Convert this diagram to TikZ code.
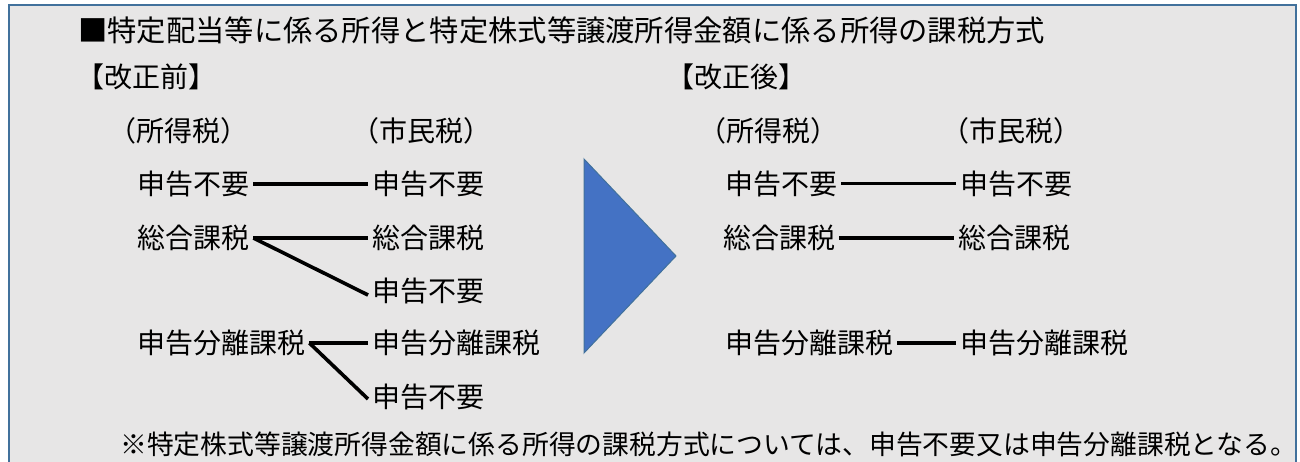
\documentclass[tikz,border=0pt]{standalone}
\usepackage{fontspec}
\setmainfont{Noto Sans CJK JP}
\definecolor{boxfill}{HTML}{E7E6E6}
\definecolor{boxline}{HTML}{41719C}
\definecolor{trifill}{HTML}{4472C4}
\begin{document}
\begin{tikzpicture}[x=1pt,y=-1pt,
  txt/.style={anchor=west, inner ysep=0pt, inner xsep=4pt},
  lbl/.style={txt, font=\fontsize{28}{30}\selectfont, text height=24.64pt, text depth=3.36pt},
  ttl/.style={txt, font=\fontsize{29.3}{31}\selectfont, text height=25.8pt, text depth=3.5pt},
  nt/.style={txt, font=\fontsize{26.8}{28}\selectfont, text height=23.6pt, text depth=3.2pt},
  conn/.style={line width=3.6pt},
  thinconn/.style={line width=3pt}]
\useasboundingbox (0,0) rectangle (1300,462);
\fill[white] (0,0) rectangle (1300,462);
\fill[boxfill] (9,5) rectangle (1296,470);
\draw[boxline, line width=2pt] (9,470) -- (9,5) -- (1296,5) -- (1296,470);

\node[ttl] (title) at (74,30) {■特定配当等に係る所得と特定株式等譲渡所得金額に係る所得の課税方式};
\node[lbl] (before) at (72,77) {【改正前】};
\node[lbl] (after) at (662,77) {【改正後】};

\node[lbl] (hl1) at (104,131) {（所得税）};
\node[lbl] (hl2) at (347,131) {（市民税）};
\node[lbl] (hr1) at (694,131) {（所得税）};
\node[lbl] (hr2) at (937,131) {（市民税）};

% before
\node[lbl] (la1) at (133,184) {申告不要};
\node[lbl] (lb1) at (368,184) {申告不要};
\node[lbl] (la2) at (133,238) {総合課税};
\node[lbl] (lb2) at (368,238) {総合課税};
\node[lbl] (lb3) at (368,291) {申告不要};
\node[lbl] (la4) at (133,343) {申告分離課税};
\node[lbl] (lb4) at (368,343) {申告分離課税};
\node[lbl] (lb5) at (368,397) {申告不要};

\draw[conn] (la1.east) -- (lb1.west);
\draw[conn] (la2.east) -- (lb2.west);
\draw[conn] (la2.east) -- ([yshift=-4pt]lb3.west);
\draw[conn] (la4.east) -- (lb4.west);
\draw[conn] (la4.east) -- ([yshift=-2pt]lb5.west);

% arrow
\filldraw[fill=trifill, draw=boxline, line width=1pt] (584,159) -- (676,256) -- (584,353) -- cycle;

% after
\node[lbl] (ra1) at (721,184) {申告不要};
\node[lbl] (rb1) at (956,184) {申告不要};
\node[lbl] (ra2) at (719,238) {総合課税};
\node[lbl] (rb2) at (954,238) {総合課税};
\node[lbl] (ra4) at (721,343) {申告分離課税};
\node[lbl] (rb4) at (956,343) {申告分離課税};

\draw[thinconn] (ra1.east) -- (rb1.west);
\draw[conn] (ra2.east) -- (rb2.west);
\draw[conn] (ra4.east) -- (rb4.west);

\node[nt] (note) at (116,444) {※特定株式等譲渡所得金額に係る所得の課税方式については、申告不要又は申告分離課税となる。};
\end{tikzpicture}
\end{document}
